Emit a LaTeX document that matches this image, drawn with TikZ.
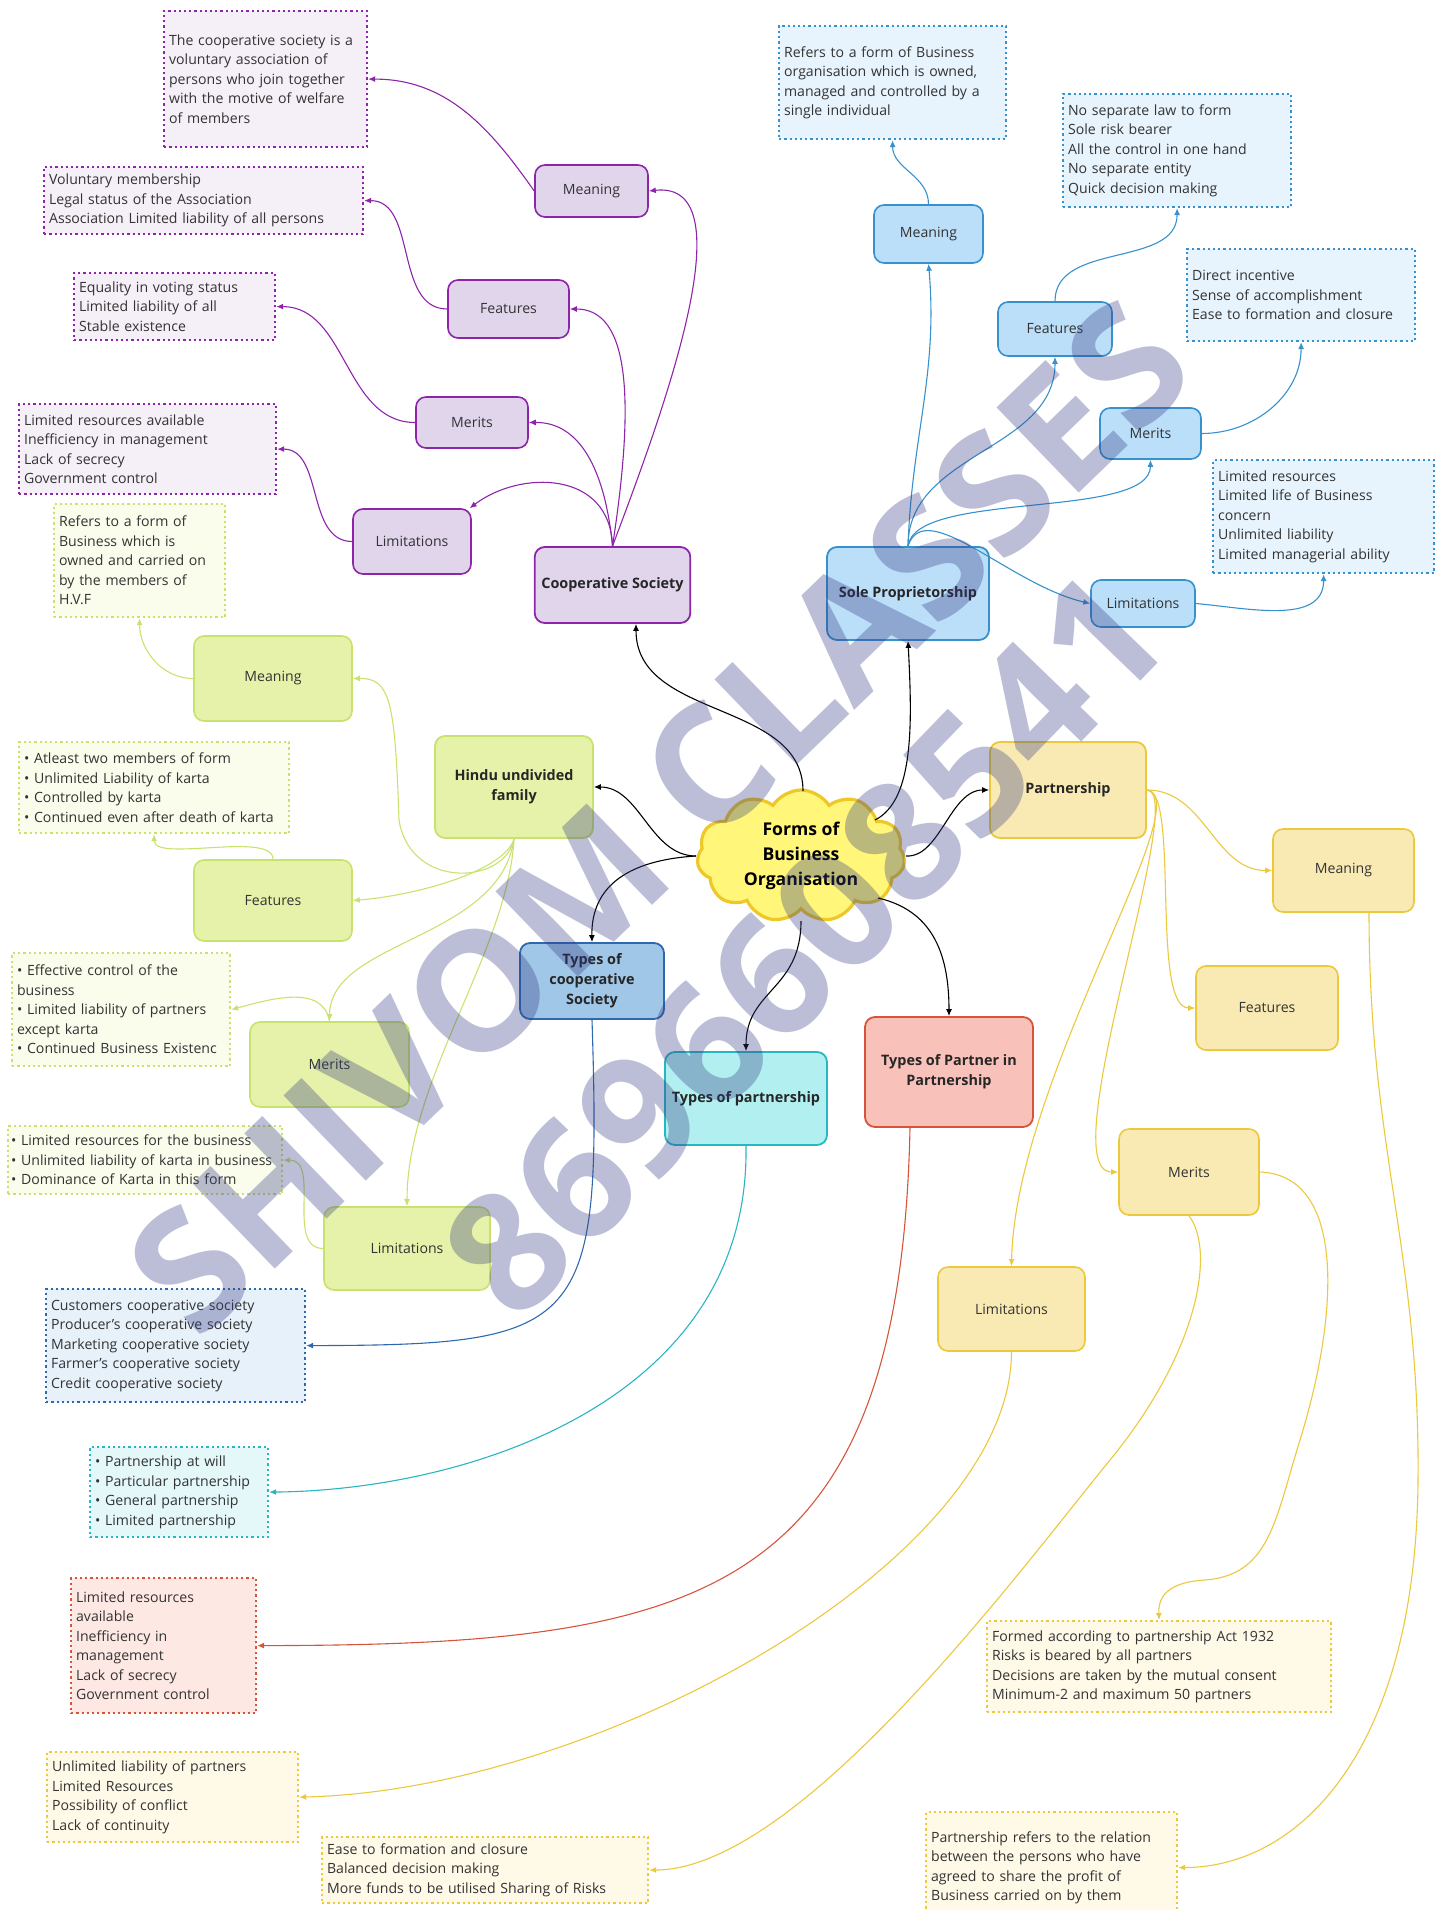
\documentclass[tikz,border=0pt]{standalone}
\usepackage{fontspec}
\setmainfont{Open Sans}
\usepackage{xcolor}
\usepackage{tikz}
\usetikzlibrary{shapes.symbols, arrows.meta}
\definecolor{textgray}{RGB}{51,51,51}
\definecolor{coopframe}{RGB}{142,36,170}
\definecolor{coopbg}{RGB}{225,213,236}
\definecolor{coopnote}{RGB}{245,239,248}
\definecolor{soleframe}{RGB}{55,145,205}
\definecolor{solebg}{RGB}{187,222,249}
\definecolor{solenote}{RGB}{232,244,253}
\definecolor{hufframe}{RGB}{200,226,110}
\definecolor{hufbg}{RGB}{230,242,170}
\definecolor{hufnote}{RGB}{250,252,236}
\definecolor{partframe}{RGB}{235,200,60}
\definecolor{partbg}{RGB}{249,234,180}
\definecolor{partnote}{RGB}{255,249,232}
\definecolor{tcsframe}{RGB}{46,105,175}
\definecolor{tcsbg}{RGB}{160,198,232}
\definecolor{tcsnote}{RGB}{230,241,250}
\definecolor{tpframe}{RGB}{40,182,192}
\definecolor{tpbg}{RGB}{178,239,240}
\definecolor{tpnote}{RGB}{228,248,250}
\definecolor{tppframe}{RGB}{214,84,58}
\definecolor{tppbg}{RGB}{248,194,186}
\definecolor{tppnote}{RGB}{253,232,228}
\definecolor{cloudframe}{RGB}{238,200,40}
\definecolor{cloudbg}{RGB}{255,246,122}
\definecolor{wmarkc}{RGB}{50,58,130}

\begin{document}
\begin{tikzpicture}[
        x=0.5pt, y=-0.5pt,
        every node/.style={font=\fontsize{7.05}{9.75}\selectfont, text=textgray},
        hub/.style={cloud, cloud puffs=11, cloud puff arc=115, aspect=1.6, draw=cloudframe, fill=cloudbg, line width=1.6pt, minimum width=104pt, minimum height=66pt, inner sep=0pt, align=center, font=\fontsize{8.8}{12.5}\selectfont\bfseries, text=black},
        topic/.style={draw, rounded corners=5pt, line width=0.9pt, align=center, font=\fontsize{7.2}{10}\selectfont\bfseries, text=black!85},
        branch/.style={draw, rounded corners=5pt, line width=0.8pt, align=center},
        note/.style={draw, dash pattern=on 1.1pt off 1.5pt, line width=1.1pt, align=left, inner xsep=2.5pt, inner ysep=0pt, anchor=north west},
        link/.style={-{Latex[length=3.5pt,width=3pt]}, line width=0.55pt},
        wmark/.style={font=\fontsize{83}{83}\selectfont\bfseries, text=wmarkc, text opacity=0.33, inner sep=0pt}
    ]
    \useasboundingbox (0,0) rectangle (1443,1910);

    \node[hub] (hub) at (801,856) {Forms of\\Business\\Organisation};

    \node[topic, fill=coopbg, draw=coopframe, minimum width=77.5pt, minimum height=38pt] (coop) at (612.5,585) {Cooperative Society};
    \node[branch, fill=coopbg, draw=coopframe, minimum width=56.5pt, minimum height=26pt] (coopMean) at (591.5,191) {Meaning};
    \node[branch, fill=coopbg, draw=coopframe, minimum width=60.5pt, minimum height=29pt] (coopFeat) at (508.5,309) {Features};
    \node[branch, fill=coopbg, draw=coopframe, minimum width=56pt, minimum height=25.5pt] (coopMer) at (472,422.5) {Merits};
    \node[branch, fill=coopbg, draw=coopframe, minimum width=59pt, minimum height=32.5pt] (coopLim) at (412,541.5) {Limitations};
    \node[note, fill=coopnote, draw=coopframe, text width=96.5pt, minimum height=68pt] (coopMeanD) at (163,10) {The cooperative society is a\\voluntary association of\\persons who join together\\with the motive of welfare\\of members};
    \node[note, fill=coopnote, draw=coopframe, text width=154.5pt, minimum height=33.5pt] (coopFeatD) at (43,166) {Voluntary membership\\Legal status of the Association\\Association Limited liability of all persons};
    \node[note, fill=coopnote, draw=coopframe, text width=95.5pt, minimum height=33.5pt] (coopMerD) at (73,272) {Equality in voting status\\Limited liability of all\\Stable existence};
    \node[note, fill=coopnote, draw=coopframe, text width=123.5pt, minimum height=45pt] (coopLimD) at (18,403) {Limited resources available\\Inefficiency in management\\Lack of secrecy\\Government control};

    \node[topic, fill=solebg, draw=soleframe, minimum width=81pt, minimum height=46.5pt] (sole) at (908,593.5) {Sole Proprietorship};
    \node[branch, fill=solebg, draw=soleframe, minimum width=54.5pt, minimum height=29pt] (soleMean) at (928.5,234) {Meaning};
    \node[branch, fill=solebg, draw=soleframe, minimum width=57pt, minimum height=27pt] (soleFeat) at (1055,329) {Features};
    \node[branch, fill=solebg, draw=soleframe, minimum width=50.5pt, minimum height=25.5pt] (soleMer) at (1150.5,433.5) {Merits};
    \node[branch, fill=solebg, draw=soleframe, minimum width=52pt, minimum height=23.5pt] (soleLim) at (1143,603.5) {Limitations};
    \node[note, fill=solenote, draw=soleframe, text width=108.5pt, minimum height=56.5pt] (soleMeanD) at (778,25) {Refers to a form of Business\\organisation which is owned,\\managed and controlled by a\\single individual};
    \node[note, fill=solenote, draw=soleframe, text width=109pt, minimum height=56.5pt] (soleFeatD) at (1062,93) {No separate law to form\\Sole risk bearer\\All the control in one hand\\No separate entity\\Quick decision making};
    \node[note, fill=solenote, draw=soleframe, text width=109pt, minimum height=46pt] (soleMerD) at (1186,248) {Direct incentive\\Sense of accomplishment\\Ease to formation and closure};
    \node[note, fill=solenote, draw=soleframe, text width=105.5pt, minimum height=56.5pt] (soleLimD) at (1212,459) {Limited resources\\Limited life of Business\\concern\\Unlimited liability\\Limited managerial ability};

    \node[topic, fill=hufbg, draw=hufframe, minimum width=79pt, minimum height=51pt] (huf) at (514,787) {Hindu undivided\\family};
    \node[branch, fill=hufbg, draw=hufframe, minimum width=79pt, minimum height=42.5pt] (hufMean) at (273,678.5) {Meaning};
    \node[branch, fill=hufbg, draw=hufframe, minimum width=79pt, minimum height=40.5pt] (hufFeat) at (273,900.5) {Features};
    \node[branch, fill=hufbg, draw=hufframe, minimum width=79.5pt, minimum height=42.5pt] (hufMer) at (329.5,1064.5) {Merits};
    \node[branch, fill=hufbg, draw=hufframe, minimum width=83pt, minimum height=41.5pt] (hufLim) at (407,1248.5) {Limitations};
    \node[note, fill=hufnote, draw=hufframe, text width=80.5pt, minimum height=56.5pt] (hufMeanD) at (53,503) {Refers to a form of\\Business which is\\owned and carried on\\by the members of\\H.V.F};
    \node[note, fill=hufnote, draw=hufframe, text width=130pt, minimum height=45.5pt] (hufFeatD) at (18,741) {• Atleast two members of form\\• Unlimited Liability of karta\\• Controlled by karta\\• Continued even after death of karta};
    \node[note, fill=hufnote, draw=hufframe, text width=104pt, minimum height=56.5pt] (hufMerD) at (11,952) {• Effective control of the\\business\\• Limited liability of partners\\except karta\\• Continued Business Existenc};
    \node[note, fill=hufnote, draw=hufframe, text width=134pt, inner xsep=1.5pt, minimum height=34pt] (hufLimD) at (7,1125) {• Limited resources for the business\\• Unlimited liability of karta in business\\• Dominance of Karta in this form};

    \node[topic, fill=partbg, draw=partframe, minimum width=78pt, minimum height=48pt] (part) at (1068,790) {Partnership};
    \node[branch, fill=partbg, draw=partframe, minimum width=70.5pt, minimum height=41.5pt] (partMean) at (1343.5,870.5) {Meaning};
    \node[branch, fill=partbg, draw=partframe, minimum width=71pt, minimum height=42pt] (partFeat) at (1267,1008) {Features};
    \node[branch, fill=partbg, draw=partframe, minimum width=70pt, minimum height=43pt] (partMer) at (1189,1172) {Merits};
    \node[branch, fill=partbg, draw=partframe, minimum width=73.5pt, minimum height=42pt] (partLim) at (1011.5,1309) {Limitations};
    \node[note, fill=partnote, draw=partframe, text width=167pt, minimum height=45.5pt] (partFeatD) at (986,1620) {Formed according to partnership Act 1932\\Risks is beared by all partners\\Decisions are taken by the mutual consent\\Minimum-2 and maximum 50 partners};
    \node[note, fill=partnote, draw=partframe, text width=120.5pt, minimum height=55.5pt] (partMeanD) at (925,1811) {Partnership refers to the relation\\between the persons who have\\agreed to share the profit of\\Business carried on by them};
    \node[note, fill=partnote, draw=partframe, text width=158pt, minimum height=33pt] (partMerD) at (321,1836) {Ease to formation and closure\\Balanced decision making\\More funds to be utilised Sharing of Risks};
    \node[note, fill=partnote, draw=partframe, text width=120.5pt, minimum height=45pt] (partLimD) at (46,1751) {Unlimited liability of partners\\Limited Resources\\Possibility of conflict\\Lack of continuity};

    \node[topic, fill=tcsbg, draw=tcsframe, minimum width=72pt, minimum height=38pt] (tcs) at (592,981) {Types of\\cooperative\\Society};
    \node[topic, fill=tpbg, draw=tpframe, minimum width=81pt, minimum height=46.5pt] (tp) at (746,1098.5) {Types of partnership};
    \node[topic, fill=tppbg, draw=tppframe, minimum width=84pt, minimum height=55pt] (tpp) at (949,1072) {Types of Partner in\\Partnership};
    \node[note, fill=tcsnote, draw=tcsframe, text width=124.5pt, minimum height=56.5pt] (tcsD) at (45,1288) {Customers cooperative society\\Producer's cooperative society\\Marketing cooperative society\\Farmer's cooperative society\\Credit cooperative society};
    \node[note, fill=tpnote, draw=tpframe, text width=84pt, minimum height=45pt] (tpD) at (89,1446) {• Partnership at will\\• Particular partnership\\• General partnership\\• Limited partnership};
    \node[note, fill=tppnote, draw=tppframe, text width=87.5pt, minimum height=67.5pt] (tppD) at (70,1577) {Limited resources\\available\\Inefficiency in\\management\\Lack of secrecy\\Government control};

    \draw[link] ([shift={(2,-65)}]hub.center) .. controls (803,700) and (636,720) .. ([xshift=11.75pt]coop.south);
    \draw[link] ([shift={(74,-36)}]hub.center) .. controls (915,800) and (912,720) .. (sole.south);
    \draw[link] ([shift={(105,0)}]hub.center) .. controls (940,858) and (950,790) .. (part.west);
    \draw[link] ([shift={(-105,0)}]hub.center) .. controls (650,856) and (640,787) .. (huf.east);
    \draw[link] ([shift={(-105,0)}]hub.center) .. controls (630,860) and (591,885) .. (tcs.north);
    \draw[link] ([shift={(0,65)}]hub.center) .. controls (801,990) and (746,990) .. (tp.north);
    \draw[link] ([shift={(77,42)}]hub.center) .. controls (930,910) and (949,950) .. (tpp.north);

    \draw[link, coopframe] (coop.north) .. controls (660,420) and (750,180) .. (coopMean.east);
    \draw[link, coopframe] (coop.north) .. controls (635,400) and (630,309) .. (coopFeat.east);
    \draw[link, coopframe] (coop.north) .. controls (605,470) and (580,422) .. (coopMer.east);
    \draw[link, coopframe] (coop.north) .. controls (610,470) and (520,470) .. (coopLim.30);
    \draw[link, coopframe] (coopMean.west) to[out=125,in=0] (coopMeanD.east);
    \draw[link, coopframe] (coopFeat.west) to[out=180,in=0] (coopFeatD.east);
    \draw[link, coopframe] (coopMer.west) to[out=180,in=0] (coopMerD.east);
    \draw[link, coopframe] (coopLim.west) to[out=180,in=0] (coopLimD.east);

    \draw[link, soleframe] (sole.north) to[out=88,in=-85] (soleMean.south);
    \draw[link, soleframe] (sole.north) to[out=90,in=-90] (soleFeat.south);
    \draw[link, soleframe] (sole.north) .. controls (915,490) and (1150,520) .. (soleMer.south);
    \draw[link, soleframe] (sole.north) .. controls (925,495) and (1010,585) .. (soleLim.west);
    \draw[link, soleframe] (soleMean.north) to[out=90,in=-90] (soleMeanD.south);
    \draw[link, soleframe] (soleFeat.north) to[out=90,in=-90] (soleFeatD.south);
    \draw[link, soleframe] (soleMer.east) to[out=0,in=-90] (soleMerD.south);
    \draw[link, soleframe] (soleLim.east) to[out=-5,in=-90] (soleLimD.south);

    \draw[link, hufframe] (huf.south) .. controls (505,885) and (410,890) .. (399,820) .. controls (395,700) and (390,678) .. (hufMean.east);
    \draw[link, hufframe] (huf.south) .. controls (505,870) and (420,895) .. (hufFeat.east);
    \draw[link, hufframe] (huf.south) .. controls (500,940) and (330,940) .. (hufMer.north);
    \draw[link, hufframe] (huf.south) .. controls (508,950) and (407,1080) .. (hufLim.north);
    \draw[link, hufframe] (hufMean.west) to[out=180,in=-90] (hufMeanD.south);
    \draw[link, hufframe] (hufFeat.north) to[out=90,in=-90,looseness=0.6] (hufFeatD.south);
    \draw[link, hufframe] (hufMer.north) to[out=100,in=15] (hufMerD.east);
    \draw[link, hufframe] (hufLim.west) to[out=180,in=0] (hufLimD.east);

    \draw[link, partframe] (part.east) to[out=0,in=180] (partMean.west);
    \draw[link, partframe] (part.east) .. controls (1180,790) and (1150,1008) .. (partFeat.west);
    \draw[link, partframe] (part.east) .. controls (1190,790) and (1050,1172) .. (partMer.west);
    \draw[link, partframe] (part.east) .. controls (1200,800) and (1015,1080) .. (partLim.north);
    \draw[link, partframe] ([xshift=12.75pt]partMean.south) .. controls (1369,1150) and (1420,1250) .. (1418,1480) .. controls (1416,1750) and (1300,1867) .. (partMeanD.east);
    \draw[link, partframe] (partMer.east) .. controls (1345,1175) and (1340,1310) .. (1300,1440) .. controls (1275,1520) and (1270,1575) .. (1205,1580) .. controls (1170,1582) and (1158,1595) .. (partFeatD.north);
    \draw[link, partframe] (partMer.south) .. controls (1215,1250) and (1200,1350) .. (1110,1460) .. controls (1020,1570) and (800,1869) .. (partMerD.east);
    \draw[link, partframe] (partLim.south) .. controls (1011,1560) and (600,1790) .. (partLimD.east);

    \draw[link, tcsframe] (tcs.south) .. controls (602,1330) and (585,1345) .. (tcsD.east);
    \draw[link, tpframe] (tp.south) .. controls (750,1400) and (470,1490) .. (tpD.east);
    \draw[link, tppframe] ([xshift=-19.5pt]tpp.south) .. controls (900,1600) and (700,1645) .. (tppD.east);

    \node[wmark, rotate=44] (wmName) at (658.5,817) {SHIVOM CLASSES};
    \node[wmark, rotate=46] (wmPhone) at (804,944) {8696608541};

    \end{tikzpicture}
\end{document}
